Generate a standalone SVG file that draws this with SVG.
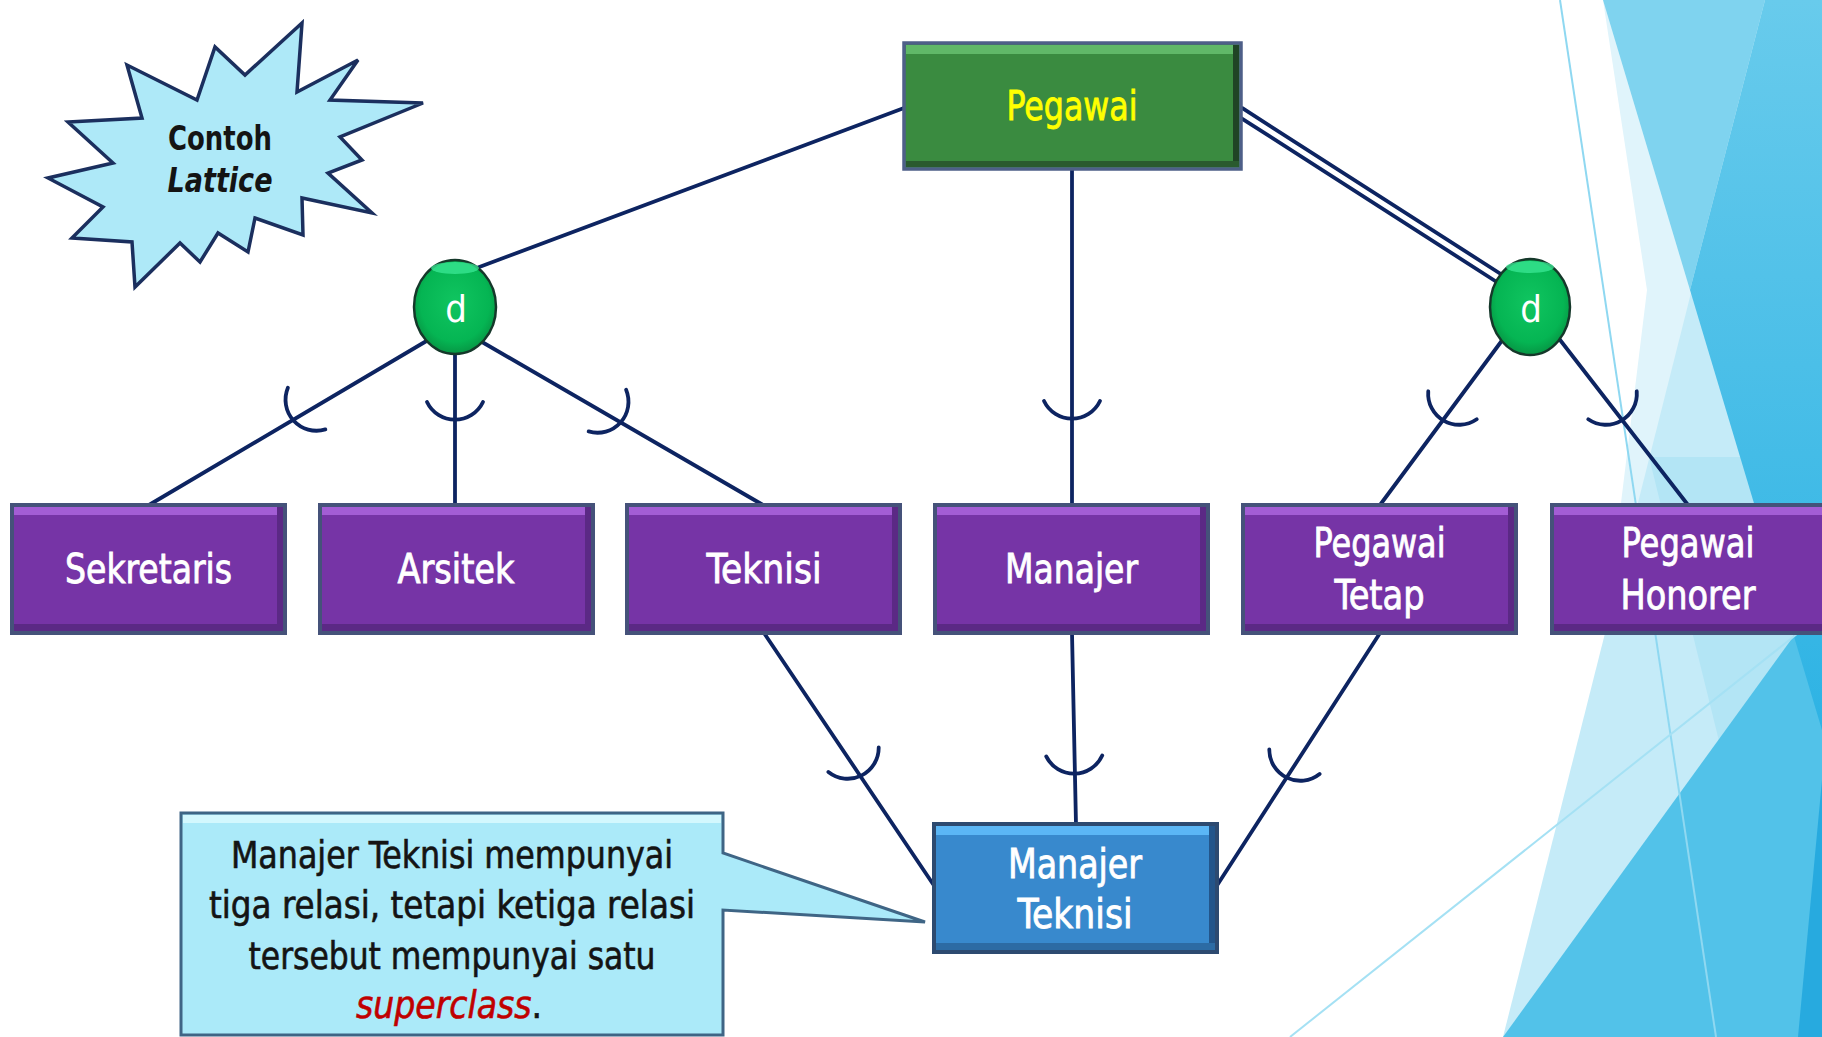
<svg xmlns="http://www.w3.org/2000/svg" width="1822" height="1037" viewBox="0 0 1822 1037">
  <defs>
    <style>
      .ln { stroke:#0D2461; stroke-width:3.8; fill:none; stroke-linecap:round; }
      .arc { stroke:#0D2461; stroke-width:3.8; fill:none; stroke-linecap:round; }
      .lbl { font-family:"DejaVu Sans Condensed","DejaVu Sans",sans-serif; font-size:40px; fill:#FFFFFF; stroke:#FFFFFF; stroke-width:0.8; text-anchor:middle; }
      .dark { font-family:"DejaVu Sans Condensed","DejaVu Sans",sans-serif; font-size:37px; fill:#141414; stroke:#141414; stroke-width:0.6; text-anchor:middle; }
      .pbox { fill:#7634A6; stroke:#45527A; stroke-width:4; }
      .phl { fill:#A35DD5; }
      .psh { fill:#5B2985; }
      .ball { fill:url(#gball); stroke:#15382A; stroke-width:2.5; }
      .bhl { fill:#3BE895; opacity:0.75; }
      .dtx { font-family:"DejaVu Sans Condensed","DejaVu Sans",sans-serif; font-size:38px; fill:#FFFFFF; text-anchor:middle; }
    </style>
    <radialGradient id="gball" cx="50%" cy="45%" r="60%">
      <stop offset="0" stop-color="#10C560"/>
      <stop offset="0.7" stop-color="#05B553"/>
      <stop offset="1" stop-color="#078A3E"/>
    </radialGradient>
    <linearGradient id="gdark" x1="0" y1="0" x2="0" y2="730" gradientUnits="userSpaceOnUse">
      <stop offset="0" stop-color="#68CBEC"/>
      <stop offset="1" stop-color="#2EB3E4"/>
    </linearGradient>
  </defs>

  <rect x="0" y="0" width="1822" height="1037" fill="#FFFFFF"/>

  <!-- background facets -->
  <g id="background">
    <polygon points="1603,0 1647,290 1605,634 1822,634 1822,0" fill="#E0F4FB"/>
    <polygon points="1765,0 1822,0 1822,1037 1503,1037" fill="#C5EBF8"/>
    <polygon points="1649,457 1822,457 1822,1037 1792,1037" fill="#B3E5F5"/>
    <polygon points="1822,597 1822,1037 1503,1037" fill="#52C2E9"/>
    <polygon points="1603,0 1765,0 1690,290" fill="#7FD3EF"/>
    <polygon points="1765,0 1822,0 1822,730 1690,290" fill="url(#gdark)"/>
    <polygon points="1822,780 1822,1037 1798,1037" fill="#27AADF"/>
    <line x1="1560" y1="0" x2="1716" y2="1037" stroke="#8FD8F1" stroke-width="2"/>
    <line x1="1290" y1="1037" x2="1822" y2="614" stroke="#A5E1F4" stroke-width="2"/>
  </g>

  <!-- connectors -->
  <g id="connectors">
    <line class="ln" x1="904" y1="108" x2="458" y2="275"/>
    <line class="ln" x1="1072" y1="168" x2="1072" y2="505"/>
    <line class="ln" x1="1242.4" y1="108.2" x2="1507" y2="278"/>
    <line class="ln" x1="1237.6" y1="115.8" x2="1503" y2="286"/>

    <line class="ln" x1="149" y1="505" x2="440" y2="333"/>
    <line class="ln" x1="455" y1="505" x2="455" y2="330"/>
    <line class="ln" x1="763" y1="505" x2="470" y2="335"/>

    <line class="ln" x1="1380" y1="505" x2="1512" y2="327"/>
    <line class="ln" x1="1688" y1="505" x2="1550" y2="327"/>

    <line class="ln" x1="764" y1="633" x2="935" y2="887"/>
    <line class="ln" x1="1072" y1="633" x2="1076" y2="825"/>
    <line class="ln" x1="1380" y1="633" x2="1216" y2="887"/>

    <path class="arc" transform="translate(294,420) rotate(48)" d="M-28,-17 A31,31 0 0 0 28,-17"/>
    <path class="arc" transform="translate(455,419)" d="M-28,-17 A31,31 0 0 0 28,-17"/>
    <path class="arc" transform="translate(620,422) rotate(-48)" d="M-28,-17 A31,31 0 0 0 28,-17"/>
    <path class="arc" transform="translate(1072,418)" d="M-28,-17 A31,31 0 0 0 28,-17"/>
    <path class="arc" transform="translate(1444,420) rotate(30)" d="M-28,-17 A31,31 0 0 0 28,-17"/>
    <path class="arc" transform="translate(1621,420) rotate(-30)" d="M-28,-17 A31,31 0 0 0 28,-17"/>
    <path class="arc" transform="translate(861,775) rotate(-26)" d="M-28,-17 A31,31 0 0 0 28,-17"/>
    <path class="arc" transform="translate(1074.5,773) rotate(-0.9)" d="M-28,-17 A31,31 0 0 0 28,-17"/>
    <path class="arc" transform="translate(1287,777) rotate(26)" d="M-28,-17 A31,31 0 0 0 28,-17"/>
  </g>

  <!-- starburst -->
  <g id="contoh-lattice">
    <polygon points="302,23 297,92 358,60 330,100 423,103 340,137 362,160 328,173 372,213 302,198 303,235 255,218 248,252 218,233 200,262 180,243 135,287 132,242 72,238 103,207 48,178 113,163 68,122 142,118 127,65 197,100 215,47 245,75" fill="#AEE9F8" stroke="#1B2F5E" stroke-width="3.5" stroke-linejoin="miter"/>
    <text class="dark" x="220" y="150" font-weight="bold" textLength="104" lengthAdjust="spacingAndGlyphs" style="font-size:33px;stroke-width:0">Contoh</text>
    <text class="dark" x="220" y="192" font-weight="bold" font-style="italic" textLength="105" lengthAdjust="spacingAndGlyphs" style="font-size:33px;stroke-width:0">Lattice</text>
  </g>

  <!-- Pegawai -->
  <g id="pegawai">
    <rect x="904" y="43" width="337" height="126" fill="#3A8B40" stroke="#4E5F88" stroke-width="3.5"/>
    <rect x="906" y="45" width="333" height="9" fill="#60B868"/>
    <rect x="1233" y="45" width="6" height="122" fill="#1F4425"/>
    <rect x="906" y="161" width="333" height="6" fill="#2A5A2F"/>
    <text class="lbl" x="1072" y="120" style="fill:#FFFF00;stroke:#FFFF00" textLength="131" lengthAdjust="spacingAndGlyphs">Pegawai</text>
  </g>

  <!-- disjoint circles -->
  <g id="d-left">
    <ellipse class="ball" cx="455" cy="307" rx="41" ry="47"/>
    <ellipse class="bhl" cx="455" cy="268" rx="24" ry="6"/>
    <text class="dtx" x="456" y="322">d</text>
  </g>
  <g id="d-right">
    <ellipse class="ball" cx="1530" cy="307" rx="40" ry="48"/>
    <ellipse class="bhl" cx="1530" cy="267" rx="24" ry="6"/>
    <text class="dtx" x="1531" y="322">d</text>
  </g>

  <!-- purple boxes -->
  <g id="sekretaris">
    <rect class="pbox" x="12" y="505" width="273" height="128"/>
    <rect class="phl" x="14" y="507" width="269" height="8"/>
    <rect class="psh" x="14" y="624" width="269" height="7"/>
    <rect class="psh" x="277" y="507" width="6" height="124"/>
    <text class="lbl" x="148.5" y="583" textLength="167" lengthAdjust="spacingAndGlyphs">Sekretaris</text>
  </g>
  <g id="arsitek">
    <rect class="pbox" x="320" y="505" width="273" height="128"/>
    <rect class="phl" x="322" y="507" width="269" height="8"/>
    <rect class="psh" x="322" y="624" width="269" height="7"/>
    <rect class="psh" x="585" y="507" width="6" height="124"/>
    <text class="lbl" x="456" y="583" textLength="117" lengthAdjust="spacingAndGlyphs">Arsitek</text>
  </g>
  <g id="teknisi">
    <rect class="pbox" x="627" y="505" width="273" height="128"/>
    <rect class="phl" x="629" y="507" width="269" height="8"/>
    <rect class="psh" x="629" y="624" width="269" height="7"/>
    <rect class="psh" x="892" y="507" width="6" height="124"/>
    <text class="lbl" x="764" y="583" textLength="115" lengthAdjust="spacingAndGlyphs">Teknisi</text>
  </g>
  <g id="manajer">
    <rect class="pbox" x="935" y="505" width="273" height="128"/>
    <rect class="phl" x="937" y="507" width="269" height="8"/>
    <rect class="psh" x="937" y="624" width="269" height="7"/>
    <rect class="psh" x="1200" y="507" width="6" height="124"/>
    <text class="lbl" x="1071.5" y="583" textLength="133" lengthAdjust="spacingAndGlyphs">Manajer</text>
  </g>
  <g id="pegawai-tetap">
    <rect class="pbox" x="1243" y="505" width="273" height="128"/>
    <rect class="phl" x="1245" y="507" width="269" height="8"/>
    <rect class="psh" x="1245" y="624" width="269" height="7"/>
    <rect class="psh" x="1508" y="507" width="6" height="124"/>
    <text class="lbl" x="1379.5" y="557" textLength="132" lengthAdjust="spacingAndGlyphs">Pegawai</text>
    <text class="lbl" x="1379.5" y="609" textLength="90" lengthAdjust="spacingAndGlyphs">Tetap</text>
  </g>
  <g id="pegawai-honorer">
    <rect class="pbox" x="1552" y="505" width="274" height="128"/>
    <rect class="phl" x="1554" y="507" width="270" height="8"/>
    <rect class="psh" x="1554" y="624" width="270" height="7"/>
    <text class="lbl" x="1688" y="557" textLength="133" lengthAdjust="spacingAndGlyphs">Pegawai</text>
    <text class="lbl" x="1688" y="609" textLength="135" lengthAdjust="spacingAndGlyphs">Honorer</text>
  </g>

  <!-- Manajer Teknisi -->
  <g id="manajer-teknisi">
    <rect x="934" y="824" width="283" height="128" fill="#3889CD" stroke="#2D4A70" stroke-width="4"/>
    <rect x="936" y="826" width="279" height="9" fill="#5BB6F5"/>
    <rect x="1209" y="826" width="6" height="124" fill="#23558A"/>
    <rect x="936" y="943" width="279" height="7" fill="#2C6BA4"/>
    <text class="lbl" x="1075" y="878" textLength="134" lengthAdjust="spacingAndGlyphs">Manajer</text>
    <text class="lbl" x="1075" y="928" textLength="115" lengthAdjust="spacingAndGlyphs">Teknisi</text>
  </g>

  <!-- callout -->
  <g id="callout">
    <path d="M181,813 H723 V853 L925,922 L723,910 V1035 H181 Z" fill="#ABEAF9" stroke="#3F6585" stroke-width="3" stroke-linejoin="miter"/>
    <rect x="183" y="815" width="538" height="8" fill="#D3F8FE"/>
    <text class="dark" x="452" y="868" textLength="442" lengthAdjust="spacingAndGlyphs">Manajer Teknisi mempunyai</text>
    <text class="dark" x="452" y="918" textLength="486" lengthAdjust="spacingAndGlyphs">tiga relasi, tetapi ketiga relasi</text>
    <text class="dark" x="452" y="969" textLength="407" lengthAdjust="spacingAndGlyphs">tersebut mempunyai satu</text>
    <text class="dark" x="449" y="1018" textLength="186" lengthAdjust="spacingAndGlyphs"><tspan style="fill:#C00000;stroke:#C00000" font-style="italic">superclass</tspan>.</text>
  </g>
</svg>
